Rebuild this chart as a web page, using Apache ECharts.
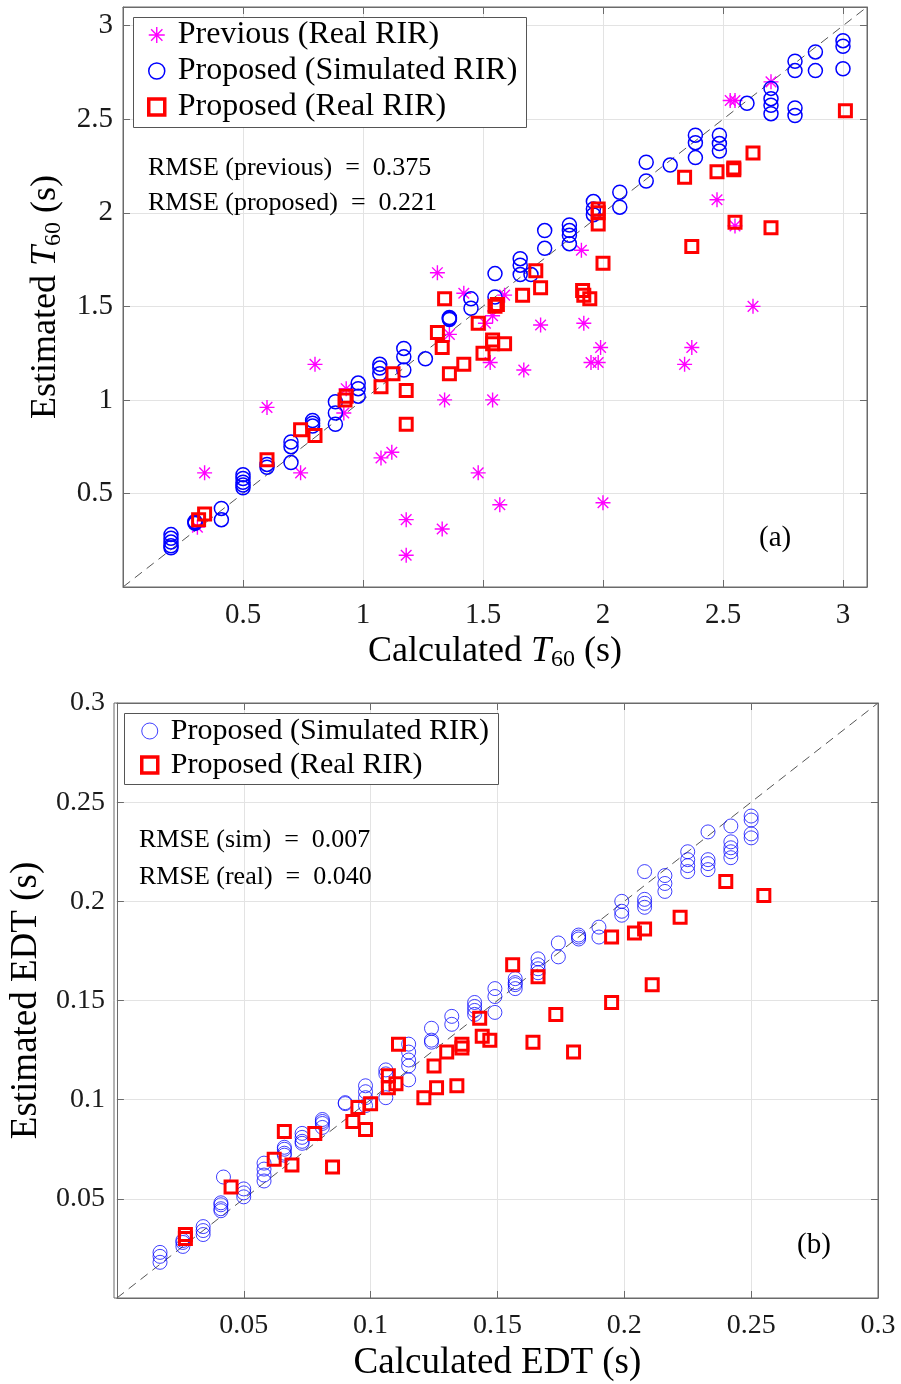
<!DOCTYPE html>
<html>
<head>
<meta charset="utf-8">
<script src="https://cdn.jsdelivr.net/npm/echarts@6/dist/echarts.min.js"></script>
<style>
html,body{margin:0;padding:0;background:#fff;}
#chart{width:901px;height:1384px;}
</style>
</head>
<body>
<div id="chart"></div>
<script>
// ---------- Data: panel (a) T60 ----------
const t60PrevReal = [
  [0.31,0.32],[0.34,0.61],[0.60,0.96],[0.74,0.61],[0.80,1.19],[0.92,0.93],[0.93,1.06],
  [1.075,0.69],[1.12,0.72],[1.18,0.36],[1.18,0.17],[1.31,1.68],[1.33,0.31],[1.34,1.00],
  [1.36,1.35],[1.42,1.57],[1.48,0.61],[1.51,1.41],[1.53,1.20],[1.54,1.00],[1.54,1.45],
  [1.57,0.44],[1.59,1.56],[1.67,1.16],[1.74,1.40],[1.91,1.80],[1.92,1.41],[1.95,1.20],
  [1.98,1.20],[1.99,1.28],[2.00,0.45],[2.34,1.19],[2.37,1.28],[2.475,2.07],[2.53,2.60],
  [2.55,2.60],[2.55,1.93],[2.625,1.50],[2.70,2.70]
];
const t60SimProposed = [
  [0.2,0.28],[0.2,0.26],[0.2,0.24],[0.2,0.22],[0.2,0.21],
  [0.3,0.35],[0.3,0.345],[0.3,0.34],
  [0.41,0.42],[0.41,0.36],
  [0.5,0.60],[0.5,0.58],[0.5,0.56],[0.5,0.545],[0.5,0.53],
  [0.6,0.64],[0.6,0.655],
  [0.7,0.775],[0.7,0.75],[0.7,0.665],
  [0.79,0.89],[0.79,0.875],[0.79,0.86],
  [0.885,0.99],[0.885,0.93],[0.885,0.87],
  [0.98,1.09],[0.98,1.06],[0.98,1.02],
  [1.07,1.19],[1.07,1.17],[1.07,1.14],
  [1.17,1.275],[1.17,1.23],[1.17,1.16],
  [1.26,1.22],
  [1.36,1.44],[1.36,1.435],[1.36,1.43],
  [1.45,1.54],[1.45,1.49],
  [1.55,1.675],[1.55,1.55],
  [1.655,1.755],[1.655,1.72],[1.655,1.67],
  [1.70,1.67],
  [1.757,1.905],[1.757,1.81],
  [1.86,1.935],[1.86,1.905],[1.86,1.88],[1.86,1.835],
  [1.96,2.06],[1.96,2.02],[1.96,1.99],
  [2.07,2.11],[2.07,2.03],
  [2.18,2.27],[2.18,2.17],
  [2.28,2.255],
  [2.385,2.415],[2.385,2.375],[2.385,2.295],
  [2.485,2.415],[2.485,2.37],[2.485,2.33],
  [2.60,2.585],
  [2.70,2.665],[2.70,2.61],[2.70,2.575],[2.70,2.53],
  [2.80,2.81],[2.80,2.76],[2.80,2.56],[2.80,2.52],
  [2.885,2.86],[2.885,2.76],
  [3.0,2.92],[3.0,2.89],[3.0,2.77]
];
const t60RealProposed = [
  [0.315,0.36],[0.34,0.39],[0.60,0.68],[0.74,0.84],[0.80,0.81],[0.925,1.00],[0.93,1.02],
  [1.075,1.07],[1.125,1.14],[1.18,1.05],[1.18,0.87],[1.31,1.36],[1.33,1.28],[1.34,1.54],
  [1.36,1.14],[1.42,1.19],[1.48,1.41],[1.50,1.25],[1.54,1.32],[1.54,1.30],[1.55,1.50],
  [1.56,1.51],[1.59,1.30],[1.665,1.56],[1.72,1.69],[1.74,1.60],[1.915,1.585],[1.92,1.56],
  [1.945,1.54],[1.98,2.02],[1.98,2.00],[1.98,1.94],[2.00,1.73],[2.34,2.19],[2.37,1.82],
  [2.475,2.22],[2.545,2.24],[2.545,2.23],[2.55,1.95],[2.625,2.32],[2.70,1.92],[3.01,2.545]
];
const t60Range = [0, 3.1];
const t60TickStep = 0.5;

// ---------- Data: panel (b) EDT ----------
const edtSimProposed = [
  [0.017,0.023],[0.017,0.021],[0.017,0.018],
  [0.026,0.029],[0.026,0.028],[0.026,0.026],
  [0.034,0.036],[0.034,0.034],[0.034,0.032],
  [0.042,0.061],[0.041,0.048],[0.041,0.047],[0.041,0.045],[0.041,0.044],
  [0.05,0.055],[0.05,0.053],[0.05,0.051],
  [0.058,0.068],[0.058,0.065],[0.058,0.062],[0.058,0.059],
  [0.066,0.076],[0.066,0.075],[0.066,0.073],[0.066,0.072],
  [0.073,0.083],[0.073,0.081],[0.073,0.079],[0.073,0.078],
  [0.081,0.090],[0.081,0.089],[0.081,0.088],[0.081,0.086],
  [0.09,0.098],[0.09,0.0985],
  [0.098,0.107],[0.098,0.104],[0.098,0.101],[0.098,0.097],
  [0.106,0.115],[0.106,0.113],[0.106,0.101],
  [0.115,0.128],[0.115,0.124],[0.115,0.120],[0.115,0.117],[0.115,0.110],
  [0.124,0.136],[0.124,0.130],[0.124,0.129],
  [0.132,0.142],[0.132,0.138],
  [0.141,0.149],[0.141,0.147],[0.141,0.145],[0.141,0.143],
  [0.149,0.156],[0.149,0.152],[0.149,0.144],
  [0.157,0.161],[0.157,0.159],[0.157,0.158],[0.157,0.156],
  [0.166,0.171],[0.166,0.168],[0.166,0.166],[0.166,0.164],
  [0.174,0.179],[0.174,0.172],
  [0.182,0.183],[0.182,0.182],[0.182,0.181],
  [0.19,0.187],[0.19,0.182],
  [0.199,0.200],[0.199,0.195],[0.199,0.193],
  [0.208,0.215],[0.208,0.201],[0.208,0.199],[0.208,0.197],
  [0.216,0.213],[0.216,0.209],[0.216,0.205],
  [0.225,0.225],[0.225,0.221],[0.225,0.218],[0.225,0.215],
  [0.233,0.235],[0.233,0.221],[0.233,0.219],[0.233,0.216],
  [0.242,0.238],[0.242,0.230],[0.242,0.227],[0.242,0.225],[0.242,0.222],
  [0.25,0.243],[0.25,0.241],[0.25,0.234],[0.25,0.232]
];
const edtRealProposed = [
  [0.027,0.032],[0.027,0.030],[0.045,0.056],[0.062,0.070],[0.066,0.084],[0.069,0.067],
  [0.078,0.083],[0.085,0.066],[0.093,0.089],[0.095,0.096],[0.098,0.085],[0.100,0.098],
  [0.107,0.112],[0.107,0.106],[0.110,0.108],[0.111,0.128],[0.121,0.101],[0.125,0.117],
  [0.126,0.106],[0.130,0.124],[0.136,0.128],[0.136,0.126],[0.134,0.107],[0.143,0.141],
  [0.144,0.132],[0.147,0.130],[0.156,0.168],[0.164,0.129],[0.166,0.162],[0.173,0.143],
  [0.180,0.124],[0.195,0.182],[0.195,0.149],[0.204,0.184],[0.208,0.186],[0.211,0.158],
  [0.222,0.192],[0.240,0.210],[0.255,0.203]
];
const edtRange = [0, 0.3];
const edtTickStep = 0.05;

// ---------- Labels ----------
const legendNames = ['Previous (Real RIR)', 'Proposed (Simulated RIR)', 'Proposed (Real RIR)'];
const rmseTextA = ['RMSE (previous)  =  0.375', 'RMSE (proposed)  =  0.221'];
const rmseTextB = ['RMSE (sim)  =  0.007', 'RMSE (real)  =  0.040'];

// ---------- Styling ----------
const FONT = '"Liberation Serif", "Times New Roman", serif';
const AXIS_COLOR = '#6b6b6b';
const GRID_COLOR = '#e3e3e3';
const ASTERISK = 'path://M0,-10L0,10M-10,0L10,0M-7.07,-7.07L7.07,7.07M-7.07,7.07L7.07,-7.07';
const CLEAR = 'rgba(0,0,0,0)';

function diag(range) { return [[range[0], range[0]], [range[1], range[1]]]; }

function richName(plain, italic, sub, tail, size) {
  return {
    name: sub ? `{n|${plain}}{i|${italic}}{s|${sub}}{n|${tail}}` : `{n|${plain}}`,
    style: {
      rich: {
        n: {fontFamily: FONT, fontSize: size, color: '#000', lineHeight: 40},
        i: {fontFamily: FONT, fontSize: size, fontStyle: 'italic', color: '#000', lineHeight: 40},
        s: {fontFamily: FONT, fontSize: Math.round(size * 0.66), color: '#000', verticalAlign: 'bottom', lineHeight: 20}
      }
    }
  };
}

function mainAxis(grid, range, step, pos, nm, gap, labelSize, labelMargin) {
  return {
    type: 'value', gridIndex: grid, position: pos,
    min: range[0], max: range[1], interval: step,
    axisLine: {show: true, onZero: false, lineStyle: {color: AXIS_COLOR, width: 1}},
    axisTick: {show: true, inside: true, length: 7, lineStyle: {color: AXIS_COLOR}},
    axisLabel: {
      show: true, showMinLabel: false, fontFamily: FONT, fontSize: labelSize, color: '#1a1a1a', margin: labelMargin,
      formatter: function (v) {
        const r = v / step;
        if (Math.abs(r - Math.round(r)) > 1e-6) return '';
        return String(+v.toFixed(4));
      }
    },
    splitLine: {show: true, lineStyle: {color: GRID_COLOR, width: 1}},
    name: nm.name, nameLocation: 'middle', nameGap: gap, nameTextStyle: nm.style
  };
}
function mirrorAxis(grid, range, step, pos) {
  return {
    type: 'value', gridIndex: grid, position: pos,
    min: range[0], max: range[1], interval: step,
    axisLine: {show: true, onZero: false, lineStyle: {color: AXIS_COLOR, width: 1}},
    axisTick: {show: true, inside: true, length: 7, lineStyle: {color: AXIS_COLOR}},
    axisLabel: {show: false}, splitLine: {show: false}
  };
}

const chart = echarts.init(document.getElementById('chart'), null, {renderer: 'canvas'});

const option = {
  backgroundColor: '#fff',
  animation: false,
  grid: [
    {left: 123, top: 7, width: 744, height: 580, show: false},
    {left: 114, top: 703, width: 764, height: 595, show: false}
  ],
  xAxis: [
    mainAxis(0, t60Range, t60TickStep, 'bottom', richName('Calculated ', 'T', '60', ' (s)', 36), 45, 29, 14),
    mirrorAxis(0, t60Range, t60TickStep, 'top'),
    mainAxis(1, edtRange, edtTickStep, 'bottom', richName('Calculated EDT (s)', '', '', '', 37), 45, 28, 14),
    mirrorAxis(1, edtRange, edtTickStep, 'top')
  ],
  yAxis: [
    mainAxis(0, t60Range, t60TickStep, 'left', richName('Estimated ', 'T', '60', ' (s)', 36), 40, 29, 10),
    mirrorAxis(0, t60Range, t60TickStep, 'right'),
    mainAxis(1, edtRange, edtTickStep, 'left', richName('Estimated EDT (s)', '', '', '', 37), 66, 28, 12),
    mirrorAxis(1, edtRange, edtTickStep, 'right')
  ],
  legend: [
    {
      left: 147, top: 17, orient: 'vertical', padding: 0, itemGap: 0,
      itemWidth: 16, itemHeight: 16,
      textStyle: {fontFamily: FONT, fontSize: 32, color: '#000', lineHeight: 36, padding: [0, 0, 0, 8]},
      selectedMode: false,
      data: [
        {name: legendNames[0], icon: ASTERISK, itemStyle: {color: CLEAR, borderColor: '#ff00ff', borderWidth: 1.4, opacity: 1}},
        {name: legendNames[1], icon: 'circle', itemStyle: {color: CLEAR, borderColor: '#0000ff', borderWidth: 1.5, opacity: 1}},
        {name: legendNames[2], icon: 'rect', itemStyle: {color: CLEAR, borderColor: '#ff0000', borderWidth: 3.5, opacity: 1}}
      ]
    },
    {
      left: 140, top: 714, orient: 'vertical', padding: 0, itemGap: 0,
      itemWidth: 16, itemHeight: 16,
      textStyle: {fontFamily: FONT, fontSize: 30, color: '#000', lineHeight: 34, padding: [0, 0, 0, 8]},
      selectedMode: false,
      data: [
        {name: legendNames[1], icon: 'circle', itemStyle: {color: CLEAR, borderColor: 'rgba(0,0,255,0.75)', borderWidth: 1, opacity: 1}},
        {name: legendNames[2], icon: 'rect', itemStyle: {color: CLEAR, borderColor: '#ff0000', borderWidth: 3.5, opacity: 1}}
      ]
    }
  ],
  graphic: [
    // plot frames
    {type: 'rect', z: 5, silent: true, shape: {x: 123, y: 7, width: 744, height: 580}, style: {fill: 'none', stroke: AXIS_COLOR, lineWidth: 1}},
    {type: 'rect', z: 5, silent: true, shape: {x: 114, y: 703, width: 764, height: 595}, style: {fill: 'none', stroke: AXIS_COLOR, lineWidth: 1}},
    // legend boxes
    {type: 'rect', z: 3, silent: true, shape: {x: 133.5, y: 17.5, width: 393, height: 110}, style: {fill: '#fff', stroke: '#555', lineWidth: 1}},
    {type: 'rect', z: 3, silent: true, shape: {x: 124.5, y: 713.5, width: 374, height: 71}, style: {fill: '#fff', stroke: '#555', lineWidth: 1}},
    // annotations
    {type: 'text', z: 6, silent: true, left: 148, top: 155, style: {text: rmseTextA[0], font: '26px ' + FONT, fill: '#000'}},
    {type: 'text', z: 6, silent: true, left: 148, top: 190, style: {text: rmseTextA[1], font: '26px ' + FONT, fill: '#000'}},
    {type: 'text', z: 6, silent: true, left: 759, top: 524, style: {text: '(a)', font: '29px ' + FONT, fill: '#000'}},
    {type: 'text', z: 6, silent: true, left: 139, top: 827, style: {text: rmseTextB[0], font: '26px ' + FONT, fill: '#000'}},
    {type: 'text', z: 6, silent: true, left: 139, top: 864, style: {text: rmseTextB[1], font: '26px ' + FONT, fill: '#000'}},
    {type: 'text', z: 6, silent: true, left: 797, top: 1231, style: {text: '(b)', font: '29px ' + FONT, fill: '#000'}}
  ],
  series: [
    {
      type: 'line', xAxisIndex: 0, yAxisIndex: 0, data: diag(t60Range), symbol: 'none', silent: true, z: 1,
      lineStyle: {color: '#555', width: 1, type: [9, 6]}
    },
    {
      name: legendNames[0], type: 'scatter', xAxisIndex: 0, yAxisIndex: 0, data: t60PrevReal,
      symbol: ASTERISK, symbolSize: 15, z: 2,
      itemStyle: {color: CLEAR, borderColor: '#ff00ff', borderWidth: 1.4, opacity: 1}, emphasis: {disabled: true}
    },
    {
      name: legendNames[1], type: 'scatter', xAxisIndex: 0, yAxisIndex: 0, data: t60SimProposed,
      symbol: 'circle', symbolSize: 14, z: 2,
      itemStyle: {color: CLEAR, borderColor: '#0000ff', borderWidth: 1.5, opacity: 1}, emphasis: {disabled: true}
    },
    {
      name: legendNames[2], type: 'scatter', xAxisIndex: 0, yAxisIndex: 0, data: t60RealProposed,
      symbol: 'rect', symbolSize: 12, z: 2,
      itemStyle: {color: CLEAR, borderColor: '#ff0000', borderWidth: 3, opacity: 1}, emphasis: {disabled: true}
    },
    {
      type: 'line', xAxisIndex: 2, yAxisIndex: 2, data: diag(edtRange), symbol: 'none', silent: true, z: 1,
      lineStyle: {color: '#555', width: 1, type: [9, 6]}
    },
    {
      name: legendNames[1], type: 'scatter', xAxisIndex: 2, yAxisIndex: 2, data: edtSimProposed,
      symbol: 'circle', symbolSize: 14, z: 2,
      itemStyle: {color: CLEAR, borderColor: 'rgba(0,0,255,0.75)', borderWidth: 1, opacity: 1}, emphasis: {disabled: true}
    },
    {
      name: legendNames[2], type: 'scatter', xAxisIndex: 2, yAxisIndex: 2, data: edtRealProposed,
      symbol: 'rect', symbolSize: 12, z: 2,
      itemStyle: {color: CLEAR, borderColor: '#ff0000', borderWidth: 3, opacity: 1}, emphasis: {disabled: true}
    }
  ]
};
chart.setOption(option);
</script>
</body>
</html>
